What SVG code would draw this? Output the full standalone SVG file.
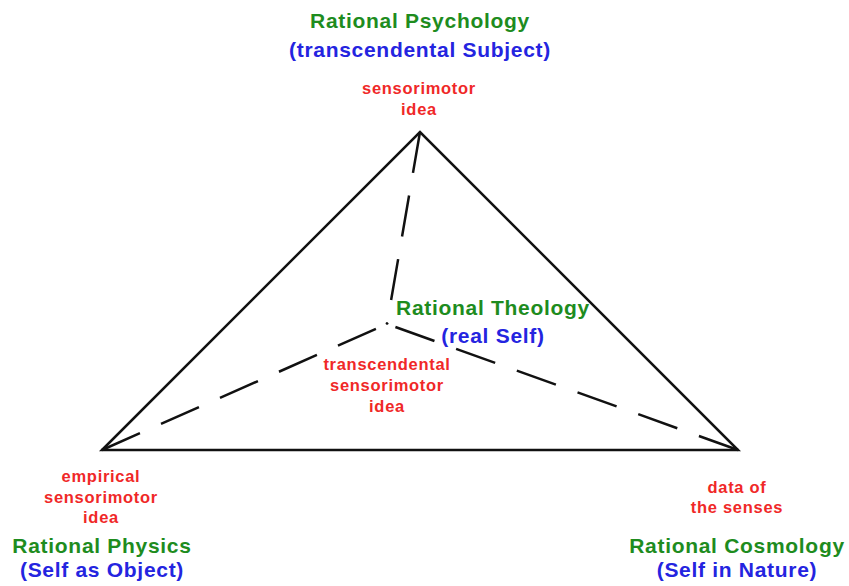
<svg xmlns="http://www.w3.org/2000/svg" width="849" height="586" viewBox="0 0 849 586">
  <style>
    text { font-family: "Liberation Sans", Arial, sans-serif; font-weight: bold; text-anchor: middle; letter-spacing: 0.7px; }
    .name { font-size: 21px; fill: #1e8c1e; }
    .sub { font-size: 21px; fill: #2424e0; }
    .idea { font-size: 16.5px; fill: #f02828; }
    .edge { fill: none; stroke: #111; stroke-width: 2.5; stroke-linejoin: miter; }
    .dash { fill: none; stroke: #111; stroke-width: 2.5; stroke-dasharray: 41.5 23; }
  </style>
  <rect width="849" height="586" fill="#ffffff"/>

  <g id="connectors">
    <path class="edge" d="M102,450 L420,132 L738,450 Z"/>
    <!-- dashed spokes, drawn from each corner toward the centre point -->
    <path class="dash" d="M420,132 L387,324"/>
    <path class="dash" d="M102,450 L387,324"/>
    <path class="dash" d="M738,450 L387,324"/>
    <circle cx="387" cy="323.5" r="1.3" fill="#111"/>
  </g>

  <g id="psychology">
    <text class="name" x="420" y="28">Rational Psychology</text>
    <text class="sub" x="420" y="57">(transcendental Subject)</text>
    <text class="idea" x="419" y="94">sensorimotor</text>
    <text class="idea" x="419" y="115">idea</text>
  </g>

  <g id="theology">
    <text class="name" x="493" y="315">Rational Theology</text>
    <text class="sub" x="493" y="343">(real Self)</text>
    <text class="idea" x="387" y="370">transcendental</text>
    <text class="idea" x="387" y="391">sensorimotor</text>
    <text class="idea" x="387" y="412">idea</text>
  </g>

  <g id="physics">
    <text class="idea" x="101" y="482">empirical</text>
    <text class="idea" x="101" y="503">sensorimotor</text>
    <text class="idea" x="101" y="523">idea</text>
    <text class="name" x="102" y="553">Rational Physics</text>
    <text class="sub" x="102" y="577">(Self as Object)</text>
  </g>

  <g id="cosmology">
    <text class="idea" x="737" y="493">data of</text>
    <text class="idea" x="737" y="513">the senses</text>
    <text class="name" x="737" y="553">Rational Cosmology</text>
    <text class="sub" x="737" y="577">(Self in Nature)</text>
  </g>
</svg>
